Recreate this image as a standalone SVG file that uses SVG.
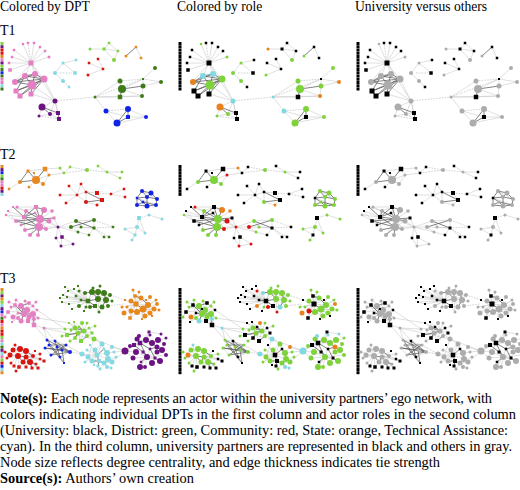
<svg xmlns="http://www.w3.org/2000/svg" width="520" height="490" viewBox="0 0 520 490" font-family="'Liberation Serif','Times New Roman',serif">
<style>
text{font-family:'Liberation Serif','Times New Roman',serif;font-size:14px;fill:#000}
.cap{font-size:14.4px}
.k1{fill:var(--k1)}.k2{fill:var(--k2)}.k3{fill:var(--k3)}.k4{fill:var(--k4)}
.k5{fill:var(--k5)}.k6{fill:var(--k6)}.k7{fill:var(--k7)}.k8{fill:var(--k8)}
.dpt{--k1:#e57fc3;--k2:#6b1383;--k3:#80d33c;--k4:#3e7c18;--k5:#1024e8;--k6:#84d9e3;--k7:#d8150f;--k8:#e8881c}
.e{fill:none;stroke:#c6c6c6;stroke-width:.55}
.ed{fill:none;stroke:#5a5a5a;stroke-width:.75}
.es{fill:none;stroke:#b4b4b4;stroke-width:.6;stroke-dasharray:1.6 1.2}
</style>
<defs>
<g id="L1">
<path class="k3" d="M0.5 42h3v3h-3z"/><path class="k2" d="M0.5 45.25h3v3h-3z"/><path class="k7" d="M0.5 48.5h3v3h-3z"/><path class="k7" d="M0.5 51.75h3v3h-3z"/><path class="k8" d="M0.5 55h3v3h-3z"/><path class="k1" d="M0.5 58.25h3v3h-3z"/><path class="k2" d="M0.5 61.5h3v3h-3z"/><path class="k3" d="M0.5 64.75h3v3h-3z"/><path class="k4" d="M0.5 68h3v3h-3z"/><path class="k5" d="M0.5 71.25h3v3h-3z"/><path class="k4" d="M0.5 74.5h3v3h-3z"/><path class="k1" d="M0.5 77.75h3v3h-3z"/><path class="k1" d="M0.5 81h3v3h-3z"/><path class="k6" d="M0.5 84.25h3v3h-3z"/><path class="k4" d="M0.5 87.5h3v3h-3z"/>
</g>
<g id="L2">
<path class="k8" d="M0.5 165h3v3h-3z"/><path class="k2" d="M0.5 168.1h3v3h-3z"/><path class="k5" d="M0.5 171.2h3v3h-3z"/><path class="k3" d="M0.5 174.3h3v3h-3z"/><path class="k4" d="M0.5 177.4h3v3h-3z"/><path class="k1" d="M0.5 180.5h3v3h-3z"/><path class="k1" d="M0.5 183.6h3v3h-3z"/><path class="k7" d="M0.5 186.7h3v3h-3z"/><path class="k2" d="M0.5 189.8h3v3h-3z"/><path class="k6" d="M0.5 192.9h3v3h-3z"/>
</g>
<g id="L3">
<path class="k8" d="M0.5 288h3v3h-3z"/><path class="k3" d="M0.5 291.2h3v3h-3z"/><path class="k2" d="M0.5 294.4h3v3h-3z"/><path class="k8" d="M0.5 297.6h3v3h-3z"/><path class="k3" d="M0.5 300.8h3v3h-3z"/><path class="k6" d="M0.5 304h3v3h-3z"/><path class="k2" d="M0.5 307.2h3v3h-3z"/><path class="k5" d="M0.5 310.4h3v3h-3z"/><path class="k1" d="M0.5 313.6h3v3h-3z"/><path class="k4" d="M0.5 316.8h3v3h-3z"/><path class="k7" d="M0.5 320h3v3h-3z"/><path class="k1" d="M0.5 323.2h3v3h-3z"/><path class="k8" d="M0.5 326.4h3v3h-3z"/><path class="k7" d="M0.5 329.6h3v3h-3z"/><path class="k7" d="M0.5 332.8h3v3h-3z"/><path class="k3" d="M0.5 336h3v3h-3z"/><path class="k1" d="M0.5 339.2h3v3h-3z"/><path class="k6" d="M0.5 342.4h3v3h-3z"/><path class="k4" d="M0.5 345.6h3v3h-3z"/><path class="k2" d="M0.5 348.8h3v3h-3z"/><path class="k6" d="M0.5 352h3v3h-3z"/><path class="k1" d="M0.5 355.2h3v3h-3z"/><path class="k3" d="M0.5 358.4h3v3h-3z"/><path class="k7" d="M0.5 361.6h3v3h-3z"/><path class="k5" d="M0.5 364.8h3v3h-3z"/><path class="k6" d="M0.5 368h3v3h-3z"/><path class="k8" d="M0.5 371.2h3v3h-3z"/>
</g>

<g id="t1E">
<path class="e" d="M31 63L14 50M31 63L23 44M31 63L34 43M31 63L40 47M31 63L45 51M31 63L49 57M31 63L12 57M31 63L9 63M31 63L10 70M31 63L25 76M31 63L35 74M31 63L44 79M31 63L15 82M31 63L55 101M44 79L55 101M32 85L55 101M31 94L55 101M55 101L42 107M55 101L50 114M55 101L58 113M55 101L59 119M50 114L58 113M42 107L39 116M50 114L59 119M39 116L50 114M63 63L76 60M63 63L55 73M63 63L75 73M55 73L63 81M63 81L69 87M89 63L103 69M98 59L103 69M88 75L103 69M90 49L104 49M104 49L109 43M104 49L118 51M104 49L114 60M109 43L118 51M118 51L114 60M136 47L141 58M95 97L120 81M95 97L120 97M120 81L122 89M122 89L142 96M143 79L155 68M143 79L161 82M143 86L161 82M120 97L142 96M143 79L143 86M143 86L142 96M122 89L143 79M95 97L106 111M106 111L117 123M128 109L146 117M117 123L146 117M128 117L146 117M106 111L128 117M95 97L142 96"/>
<path class="ed" d="M25 76L35 74M25 76L44 79M35 74L44 79M15 82L44 79M16 91L44 79M20 96L32 85M32 85L44 79M25 76L32 85M35 74L32 85M15 82L32 85M16 91L32 85M31 94L32 85M20 96L44 79M15 82L35 74M16 91L25 76M15 82L25 76M31 94L44 79M42 107L50 114M42 107L58 113M58 113L59 119M136 47L126 56M122 89L143 86M120 97L122 89M117 123L128 109M117 123L128 117M128 109L128 117"/>
<path class="es" d="M31 63L28 43M55 101L95 97M60 73L72 73M95 97L143 79M120 81L143 79M106 111L128 109M39 116L59 119"/>
</g>

<g id="t1U">
<path class="k1" d="M28.5 60.5h5v5h-5zM12.75 48.75h2.5v2.5h-2.5zM26.75 41.75h2.5v2.5h-2.5zM32.75 41.75h2.5v2.5h-2.5zM38.75 45.75h2.5v2.5h-2.5zM43.75 49.75h2.5v2.5h-2.5zM10.75 55.75h2.5v2.5h-2.5zM7.75 61.75h2.5v2.5h-2.5zM8.25 68.25h3.5v3.5h-3.5zM13.5 88.5h5v5h-5zM17.5 93.5h5v5h-5zM28.5 91.5h5v5h-5z"/>
<path class="k2" d="M56 111h4v4h-4zM57 117h4v4h-4z"/>
<path class="k6" d="M74.75 58.75h2.5v2.5h-2.5zM73.25 71.25h3.5v3.5h-3.5zM67.75 85.75h2.5v2.5h-2.5z"/>
<path class="k7" d="M87.75 61.75h2.5v2.5h-2.5zM96.75 57.75h2.5v2.5h-2.5zM101.75 67.75h2.5v2.5h-2.5z"/>
<path class="k3" d="M102.5 47.5h3v3h-3zM107.75 41.75h2.5v2.5h-2.5zM116.75 49.75h2.5v2.5h-2.5z"/>
<path class="k8" d="M134.75 45.75h2.5v2.5h-2.5zM139.75 56.75h2.5v2.5h-2.5z"/>
<path class="k4" d="M117.75 94.75h4.5v4.5h-4.5zM142 78h2v2h-2z"/>
<path class="k5" d="M126 115h4v4h-4z"/>
</g>
<g id="t1D">
<g class="k1"><circle cx="23" cy="44" r="1.3"/><circle cx="49" cy="57" r="1.5"/><circle cx="44" cy="79" r="3.5"/><circle cx="32" cy="85" r="4.5"/></g>
<g class="k2"><circle cx="50" cy="114" r="2"/><circle cx="39" cy="116" r="1.5"/></g>
<g class="k6"><circle cx="63" cy="63" r="1.5"/><circle cx="55" cy="73" r="2"/><circle cx="63" cy="81" r="2"/></g>
<g class="k7"><circle cx="88" cy="75" r="1.5"/></g>
<g class="k3"><circle cx="114" cy="60" r="2"/></g>
<g class="k8"><circle cx="126" cy="56" r="1.5"/></g>
<g class="k4"><circle cx="120" cy="81" r="2.5"/><circle cx="122" cy="89" r="4"/><circle cx="143" cy="86" r="2.5"/><circle cx="155" cy="68" r="2"/></g>
<g class="k5"><circle cx="117" cy="123" r="3.5"/><circle cx="128" cy="109" r="3"/><circle cx="146" cy="117" r="2"/></g>
</g>
<g id="t1S">
<g class="k1"><circle cx="15" cy="82" r="3"/></g>
<g class="k2"><circle cx="42" cy="107" r="3.5"/></g>
<g class="k3"><circle cx="90" cy="49" r="1.5"/></g>
<g class="k4"><circle cx="142" cy="96" r="2"/><circle cx="161" cy="82" r="2"/></g>
</g>
<g id="t1T">
<g class="k1"><circle cx="25" cy="76" r="3"/><circle cx="35" cy="74" r="3"/></g>
<g class="k2"><circle cx="55" cy="101" r="2.5"/></g>
<g class="k4"><circle cx="95" cy="97" r="1.5"/></g>
<g class="k5"><circle cx="106" cy="111" r="2.5"/></g>
</g>

<g id="t2E">
<path class="e" d="M28 171L45 169M45 169L36 180M36 180L43 184M9 189L20 182M45 169L49 175M36 180L49 175M34 173L36 180M28 171L34 173M49 175L64 173M45 169L60 168M43 184L49 175M60 168L64 173M64 173L70 167M98 166L107 172M107 172L122 172M107 172L120 178M77 195L81 184M77 195L69 186M77 195L60 195M77 195L66 203M77 195L86 202M77 195L86 192M86 192L97 193M111 194L124 189M86 192L86 202M97 193L102 200M97 205L102 200M86 202L97 205M81 184L86 192M142 191L157 199M137 198L156 205M8 211L24 217M6 215L24 217M17 207L26 211M52 211L40 219M21 225L24 217M16 221L24 217M25 230L24 217M46 229L40 219M30 235L40 219M36 207L26 211M49 221L39 227M13 207L26 211M8 211L16 221M17 207L36 207M6 215L16 221M54 218L58 227M49 221L58 227M46 229L58 227M40 219L58 227M39 227L58 227M58 227L62 237M58 227L56 238M62 237L73 244M61 246L73 244M56 238L61 246M62 237L61 246M58 227L76 221M58 227L71 227M76 221L94 220M71 227L94 228M94 220L94 228M78 232L89 235M94 228L104 237M71 227L78 232M58 227L78 232M76 221L81 227M81 227L94 228M149 215L162 219M139 218L137 227M137 227L125 229M137 227L145 233M137 227L135 235M135 235L132 240M125 229L135 235M139 218L145 233"/>
<path class="ed" d="M28 171L36 180M28 171L20 182M20 182L36 180M45 169L36 180M86 202L102 200M86 192L102 200M142 191L151 193M142 191L137 198M142 191L147 197M151 193L157 199M137 198L147 197M147 197L157 199M137 198L137 205M137 205L147 206M147 206L156 205M143 202L147 206M137 198L143 202M147 197L147 206M156 205L157 199M151 193L147 197M143 202L156 205M137 205L143 202M36 207L40 219M36 207L24 217M24 217L40 219M24 217L39 227M40 219L39 227M16 221L40 219M16 221L39 227M26 211L40 219M26 211L24 217M35 213L40 219M35 213L24 217M44 210L40 219M21 225L40 219M25 230L39 227M30 235L39 227M38 235L39 227M49 221L40 219M46 229L39 227M54 218L40 219M36 207L44 210M13 207L24 217M76 221L94 228M71 227L94 220"/>
<path class="es" d="M29 187L36 180M43 184L36 180M64 173L87 170M87 170L107 172M70 167L87 170M97 193L111 194M111 194L125 197M94 228L113 227M94 228L109 237M94 220L113 227M89 235L94 228M139 218L149 215"/>
</g>

<g id="t2U">
<path class="k8" d="M26.5 169.5h3v3h-3zM42.75 166.75h4.5v4.5h-4.5zM7.75 187.75h2.5v2.5h-2.5zM27.75 185.75h2.5v2.5h-2.5zM33 172h2v2h-2z"/>
<path class="k3" d="M62.75 171.75h2.5v2.5h-2.5zM68.75 165.75h2.5v2.5h-2.5zM96.75 164.75h2.5v2.5h-2.5zM120.75 170.75h2.5v2.5h-2.5zM118.75 176.75h2.5v2.5h-2.5z"/>
<path class="k7" d="M79.75 182.75h2.5v2.5h-2.5zM67.75 184.75h2.5v2.5h-2.5zM75.75 193.75h2.5v2.5h-2.5zM84.75 190.75h2.5v2.5h-2.5zM95 191h4v4h-4zM109.75 192.75h2.5v2.5h-2.5zM122.75 187.75h2.5v2.5h-2.5zM123.75 195.75h2.5v2.5h-2.5zM64.75 201.75h2.5v2.5h-2.5zM58.75 193.75h2.5v2.5h-2.5zM100 198h4v4h-4z"/>
<path class="k5" d="M135.75 196.75h2.5v2.5h-2.5z"/>
<path class="k1" d="M12 206h2v2h-2zM7 210h2v2h-2zM34 205h4v4h-4zM33.75 211.75h2.5v2.5h-2.5zM22 215h4v4h-4zM52.5 216.5h3v3h-3zM14.25 219.25h3.5v3.5h-3.5zM19.75 223.75h2.5v2.5h-2.5z"/>
<path class="k2" d="M60.25 235.25h3.5v3.5h-3.5zM54.75 236.75h2.5v2.5h-2.5z"/>
<path class="k4" d="M92.5 226.5h3v3h-3zM111.75 225.75h2.5v2.5h-2.5zM87.75 233.75h2.5v2.5h-2.5zM102.75 235.75h2.5v2.5h-2.5zM107.75 235.75h2.5v2.5h-2.5z"/>
<path class="k6" d="M137 216h4v4h-4zM133.5 233.5h3v3h-3z"/>
</g>
<g id="t2D">
<g class="k8"><circle cx="36" cy="180" r="4"/><circle cx="20" cy="182" r="2"/><circle cx="43" cy="184" r="2"/></g>
<g class="k3"><circle cx="87" cy="170" r="2"/><circle cx="107" cy="172" r="1.5"/></g>
<g class="k7"><circle cx="86" cy="202" r="2"/></g>
<g class="k5"><circle cx="142" cy="191" r="2"/><circle cx="151" cy="193" r="2.5"/><circle cx="147" cy="197" r="2"/><circle cx="157" cy="199" r="2"/><circle cx="137" cy="205" r="2"/><circle cx="147" cy="206" r="2.5"/><circle cx="156" cy="205" r="2"/><circle cx="143" cy="202" r="1.5"/></g>
<g class="k1"><circle cx="6" cy="215" r="1.3"/><circle cx="26" cy="211" r="2"/><circle cx="40" cy="219" r="4"/><circle cx="39" cy="227" r="4"/><circle cx="25" cy="230" r="2"/><circle cx="30" cy="235" r="2"/><circle cx="38" cy="235" r="2"/></g>
<g class="k4"><circle cx="76" cy="221" r="2"/><circle cx="94" cy="220" r="2"/><circle cx="81" cy="227" r="1.5"/><circle cx="78" cy="232" r="1.5"/></g>
<g class="k6"><circle cx="149" cy="215" r="1.5"/><circle cx="162" cy="219" r="1.5"/><circle cx="125" cy="229" r="1.5"/><circle cx="137" cy="227" r="2"/><circle cx="145" cy="233" r="1.5"/><circle cx="132" cy="240" r="1.5"/></g>
</g>
<g id="t2C">
<g class="k8"><circle cx="49" cy="175" r="1.5"/></g>
<g class="k1"><circle cx="17" cy="207" r="1.5"/><circle cx="49" cy="221" r="2.5"/><circle cx="46" cy="229" r="2"/></g>
<g class="k2"><circle cx="58" cy="227" r="1.5"/><circle cx="61" cy="246" r="1.5"/><circle cx="73" cy="244" r="1.5"/></g>
<g class="k4"><circle cx="71" cy="227" r="2"/></g>
</g>
<g id="t2S">
<g class="k3"><circle cx="60" cy="168" r="1.5"/></g>
<g class="k7"><circle cx="97" cy="205" r="1.5"/></g>
<g class="k1"><circle cx="44" cy="210" r="3"/><circle cx="52" cy="211" r="1.8"/></g>
</g>

<g id="t3E">
<path class="e" d="M27 310L15 305M27 310L29 303M27 310L8 312M27 310L28 321M27 310L34 325M27 310L18 313M27 310L12 322M27 310L37 310M27 310L21 306M27 310L33 314M27 310L18 318M27 310L11 307M27 310L38 318M27 310L16 300M27 310L25 301M27 310L33 306M27 310L21 321M27 310L34 319M27 310L13 317M15 305L8 312M15 305L21 306M15 305L18 313M15 305L16 300M15 305L11 307M29 303L33 306M29 303L25 301M29 303L37 310M28 321L34 325M28 321L21 321M28 321L34 319M24 314L28 321M18 313L13 317M12 322L18 318M8 312L13 317M33 314L38 318M34 325L44 328M15 305L9 302M27 310L36 302M8 312L5 317
M44 328L55 341M44 328L47 340M44 328L65 329M44 328L94 339M37 310L65 329M34 325L47 340M38 318L69 323M94 339L102 344M94 339L88 357M82 354L88 357M114 352L125 351M112 347L125 351M112 362L125 351M94 339L125 351M66 345L82 354
M88 301L63 295M88 301L68 291M88 301L74 289M88 301L62 302M88 301L69 304M88 301L67 297M88 301L76 296M88 301L72 309M88 301L84 311M88 301L79 291M88 301L85 293M88 301L79 306M88 301L90 307M88 301L92 292M88 301L98 292M88 301L93 288M98 299L104 293M98 299L106 300M98 299L108 306M98 299L110 295M98 299L102 307M98 299L99 312M98 299L95 306M98 292L104 293M104 293L110 295M106 300L110 295M106 300L108 306M92 292L98 292M63 295L68 291M68 291L74 289M62 302L69 304M67 297L63 295M76 296L81 300M95 306L102 307M95 306L99 312M86 307L90 307M88 301L65 287M88 301L60 298M88 301L78 286M98 299L112 301M98 292L100 286
M136 304L135 296M136 304L130 318M136 304L146 300M136 304L125 300M136 304L131 301M136 304L141 298M136 304L148 305M136 304L137 312M136 304L131 311M136 304L124 313M136 304L127 307M136 304L139 292M143 309L152 316M143 309L142 319M143 309L154 309M143 309L150 313M143 309L145 316M143 309L157 304M143 309L156 300M148 305L156 300M148 305L154 309M141 298L146 300M130 318L137 312M137 312L145 316M150 313L152 316M131 311L130 318M143 309L159 310M136 304L133 290M143 309L150 297M136 304L122 307
M84 331L69 323M84 331L74 322M84 331L79 327M84 331L67 335M84 331L75 338M84 331L81 341M84 331L89 328M84 331L92 333M84 331L87 336M84 331L82 323M84 331L87 323M84 331L94 339M75 328L65 329M75 328L71 330M75 328L69 323M75 328L74 322M75 328L67 335M75 328L78 333M78 333L75 338M78 333L81 341M89 328L92 333M87 336L92 333M84 331L62 336M84 331L95 326M75 338L70 341
M55 341L66 345M47 340L55 341M45 348L51 355M60 357L64 363M57 347L62 350M60 357L70 352M45 348L49 345
M18 356L13 350M18 356L20 349M18 356L26 351M18 356L10 355M18 356L7 358M18 356L11 363M18 356L14 366M18 356L19 367M18 356L15 345M26 357L26 351M26 357L33 356M26 357L30 362M26 357L26 367M26 357L32 368M26 357L35 351M26 357L38 368M26 357L40 359M26 357L44 361M26 357L36 364M30 362L38 368M33 356L40 359M40 359L44 361M20 349L26 351M13 350L20 349M23 362L19 367M18 356L5 352M26 357L40 354M19 367L16 371
M97 355L82 354M97 355L88 357M97 355L92 361M97 355L102 344M97 355L90 345M97 355L107 353M97 355L108 359M97 355L87 350M97 355L94 365M104 363L107 367M104 363L111 368M104 363L112 362M107 353L114 352M107 353L112 347M102 344L104 349M95 350L102 344M108 359L112 362M88 357L92 361M104 363L116 357M97 355L85 362M104 363L100 369
M140 343L134 345M140 343L137 339M140 343L139 336M140 343L146 340M140 343L149 332M140 343L152 343M140 343L136 352M140 343L125 351M140 343L150 335M147 357L150 349M147 357L155 358M147 357L152 363M147 357L140 367M147 357L160 361M147 357L133 358M147 357L136 352M147 357L157 352M152 343L158 340M152 343L150 349M158 340L164 344M162 350L157 352M162 350L164 344M157 347L162 350M149 332L161 334M146 340L149 332M125 351L134 345M125 351L136 352M125 351L133 358M147 357L166 355M147 357L145 367M140 343L130 346M152 343L166 338"/>
<path class="ed" d="M21 306L24 314M24 314L33 314M18 313L24 314M21 306L29 303M24 314L21 321M33 314L34 325M15 305L24 314M28 321L33 314M88 301L98 299M88 301L95 306M92 292L98 299M98 292L98 299M85 293L92 292M81 300L88 301M90 307L95 306M102 307L106 300M104 293L106 300M136 304L143 309M143 309L148 305M141 298L148 305M137 312L143 309M131 301L136 304M131 311L137 312M135 296L141 298M75 328L84 331M78 333L84 331M79 327L84 331M67 335L78 333M75 338L78 333M81 341L87 336M47 340L70 352M45 348L70 352M55 341L60 357M49 345L66 345M51 355L66 345M57 347L70 352M62 350L64 363M45 348L62 350M55 341L70 352M47 340L60 357M51 355L70 352M49 345L64 363M18 356L26 357M23 362L26 357M30 362L32 368M26 351L33 356M18 356L23 362M30 362L36 364M97 355L99 361M99 361L104 363M97 355L104 349M104 349L107 353M107 353L108 359M92 361L99 361M95 350L97 355M99 361L98 366M108 359L104 363M140 343L147 357M140 343L150 349M143 352L147 357M150 349L157 347M146 340L152 343M150 349L155 358M134 345L143 352M152 343L157 347M155 358L160 361M141 362L147 357"/>
<path class="es" d="M70 352L82 354M108 306L124 304M110 295L125 300"/>
</g>

<g id="t3U">
<path class="k1" d="M13.25 303.25h3.5v3.5h-3.5zM27.25 301.25h3.5v3.5h-3.5zM6.25 310.25h3.5v3.5h-3.5zM26 319h4v4h-4zM31.75 322.75h4.5v4.5h-4.5zM16.75 311.75h2.5v2.5h-2.5zM11 321h2v2h-2zM35.75 308.75h2.5v2.5h-2.5zM23 308h2v2h-2z"/>
<path class="k4" d="M62 294h2v2h-2zM67 290h2v2h-2zM73 288h2v2h-2zM61 301h2v2h-2zM68 303h2v2h-2zM66 296h2v2h-2zM74.75 294.75h2.5v2.5h-2.5zM71 308h2v2h-2zM83 310h2v2h-2zM85.75 298.75h4.5v4.5h-4.5zM93 304h4v4h-4zM79.75 298.75h2.5v2.5h-2.5zM64 286h2v2h-2zM59 297h2v2h-2zM77 285h2v2h-2z"/>
<path class="k8" d="M133.25 294.25h3.5v3.5h-3.5zM133.5 301.5h5v5h-5zM128.25 316.25h3.5v3.5h-3.5zM145 299h2v2h-2zM151 315h2v2h-2zM124 299h2v2h-2zM141 318h2v2h-2z"/>
<path class="k3" d="M68 322h2v2h-2zM73 321h2v2h-2zM77.75 325.75h2.5v2.5h-2.5zM65 333h4v4h-4zM73.25 336.25h3.5v3.5h-3.5zM79 339h4v4h-4zM87.75 326.75h2.5v2.5h-2.5zM90.5 331.5h3v3h-3z"/>
<path class="k5" d="M53.75 339.75h2.5v2.5h-2.5zM58.75 355.75h2.5v2.5h-2.5zM63 362h2v2h-2z"/>
<path class="k7" d="M12.5 364.5h3v3h-3zM17.25 365.25h3.5v3.5h-3.5zM24.5 365.5h3v3h-3zM30.5 366.5h3v3h-3zM36.5 366.5h3v3h-3zM42.5 359.5h3v3h-3zM38.75 357.75h2.5v2.5h-2.5zM34 350h2v2h-2z"/>
<path class="k6" d="M94.75 352.75h4.5v4.5h-4.5zM97 359h4v4h-4zM96.5 364.5h3v3h-3zM89 344h2v2h-2zM102.75 347.75h2.5v2.5h-2.5zM93 364h2v2h-2z"/>
<path class="k2" d="M132 343h4v4h-4zM137.75 340.75h4.5v4.5h-4.5zM147.5 330.5h3v3h-3zM141.5 350.5h3v3h-3zM148.75 347.75h2.5v2.5h-2.5zM153.5 356.5h3v3h-3zM139.75 360.75h2.5v2.5h-2.5z"/>
</g>
<g id="t3D">
<g class="k1"><circle cx="21" cy="306" r="3"/><circle cx="27" cy="310" r="3"/><circle cx="33" cy="314" r="3"/><circle cx="24" cy="314" r="3"/><circle cx="29" cy="317" r="2.5"/><circle cx="18" cy="318" r="2"/><circle cx="11" cy="307" r="1.5"/><circle cx="38" cy="318" r="1.5"/><circle cx="16" cy="300" r="1.5"/><circle cx="25" cy="301" r="1.5"/><circle cx="33" cy="306" r="1.5"/><circle cx="9" cy="302" r="1.5"/><circle cx="36" cy="302" r="1.5"/><circle cx="5" cy="317" r="1.5"/></g>
<g class="k4"><circle cx="92" cy="292" r="3"/><circle cx="98" cy="292" r="3"/><circle cx="104" cy="293" r="3"/><circle cx="98" cy="299" r="3"/><circle cx="106" cy="300" r="3"/><circle cx="108" cy="306" r="2"/><circle cx="93" cy="288" r="1.5"/><circle cx="110" cy="295" r="2"/><circle cx="86" cy="307" r="1.5"/><circle cx="112" cy="301" r="1.5"/><circle cx="100" cy="286" r="1.5"/></g>
<g class="k8"><circle cx="131" cy="301" r="2.5"/><circle cx="141" cy="298" r="2.5"/><circle cx="148" cy="305" r="3"/><circle cx="154" cy="309" r="2.5"/><circle cx="143" cy="309" r="3.5"/><circle cx="150" cy="313" r="2.5"/><circle cx="137" cy="312" r="3"/><circle cx="145" cy="316" r="2.5"/><circle cx="139" cy="292" r="1.5"/><circle cx="156" cy="300" r="1.5"/><circle cx="127" cy="307" r="1.5"/><circle cx="159" cy="310" r="1.5"/><circle cx="133" cy="290" r="1.5"/><circle cx="150" cy="297" r="2"/><circle cx="122" cy="307" r="1.5"/></g>
<g class="k3"><circle cx="75" cy="328" r="2.5"/><circle cx="84" cy="331" r="2.5"/><circle cx="78" cy="333" r="2.5"/><circle cx="87" cy="336" r="2"/><circle cx="65" cy="329" r="1.5"/><circle cx="71" cy="330" r="1.5"/><circle cx="87" cy="323" r="1.5"/><circle cx="62" cy="336" r="1.5"/><circle cx="95" cy="326" r="1.5"/><circle cx="70" cy="341" r="1.5"/></g>
<g class="k5"><circle cx="47" cy="340" r="1.5"/><circle cx="45" cy="348" r="1.5"/><circle cx="51" cy="355" r="1.5"/><circle cx="70" cy="352" r="2"/><circle cx="57" cy="347" r="1.5"/><circle cx="62" cy="350" r="1.5"/><circle cx="49" cy="345" r="1.5"/><circle cx="66" cy="345" r="1.5"/></g>
<g class="k7"><circle cx="13" cy="350" r="2.5"/><circle cx="20" cy="349" r="3"/><circle cx="26" cy="351" r="3"/><circle cx="18" cy="356" r="3"/><circle cx="26" cy="357" r="2.5"/><circle cx="30" cy="362" r="3"/><circle cx="23" cy="362" r="2.5"/><circle cx="33" cy="356" r="2"/><circle cx="7" cy="358" r="1.5"/><circle cx="11" cy="363" r="1.5"/><circle cx="36" cy="364" r="1.5"/><circle cx="5" cy="352" r="1.5"/><circle cx="40" cy="354" r="1.5"/><circle cx="16" cy="371" r="1.5"/></g>
<g class="k6"><circle cx="88" cy="357" r="2.5"/><circle cx="92" cy="361" r="2.5"/><circle cx="95" cy="350" r="2.5"/><circle cx="102" cy="344" r="2.5"/><circle cx="107" cy="353" r="3"/><circle cx="108" cy="359" r="3"/><circle cx="112" cy="362" r="2.5"/><circle cx="104" cy="363" r="2.5"/><circle cx="87" cy="350" r="1.5"/><circle cx="114" cy="352" r="1.5"/><circle cx="116" cy="357" r="1.5"/><circle cx="85" cy="362" r="1.5"/><circle cx="100" cy="369" r="1.5"/></g>
<g class="k2"><circle cx="137" cy="339" r="2.5"/><circle cx="146" cy="340" r="3"/><circle cx="152" cy="343" r="3"/><circle cx="158" cy="340" r="3"/><circle cx="162" cy="350" r="3"/><circle cx="157" cy="352" r="2.5"/><circle cx="136" cy="352" r="3"/><circle cx="147" cy="357" r="3"/><circle cx="152" cy="363" r="3"/><circle cx="140" cy="367" r="3"/><circle cx="160" cy="361" r="3"/><circle cx="133" cy="358" r="2.5"/><circle cx="164" cy="344" r="2"/><circle cx="166" cy="355" r="2"/><circle cx="145" cy="367" r="2"/><circle cx="130" cy="346" r="2"/><circle cx="166" cy="338" r="1.5"/></g>
</g>
<g id="t3C">
<g class="k4"><circle cx="79" cy="291" r="1.5"/><circle cx="90" cy="307" r="2"/><circle cx="99" cy="312" r="1.5"/></g>
<g class="k8"><circle cx="131" cy="311" r="2.5"/></g>
</g>
<g id="t3S">
<g class="k1"><circle cx="13" cy="317" r="2.5"/></g>
<g class="k4"><circle cx="79" cy="306" r="2"/></g>
<g class="k8"><circle cx="124" cy="313" r="2.5"/><circle cx="157" cy="304" r="2"/></g>
<g class="k3"><circle cx="82" cy="323" r="2"/></g>
<g class="k7"><circle cx="10" cy="355" r="2.5"/></g>
<g class="k6"><circle cx="112" cy="347" r="2"/></g>
<g class="k2"><circle cx="157" cy="347" r="2.5"/></g>
</g>
<g id="t3T">
<g class="k1"><circle cx="21" cy="321" r="2.5"/><circle cx="34" cy="319" r="2"/><circle cx="44" cy="328" r="1.5"/></g>
<g class="k4"><circle cx="85" cy="293" r="2"/><circle cx="102" cy="307" r="2.5"/></g>
<g class="k3"><circle cx="94" cy="339" r="2.5"/></g>
<g class="k7"><circle cx="15" cy="345" r="1.5"/></g>
<g class="k6"><circle cx="82" cy="354" r="2.5"/><circle cx="107" cy="367" r="2"/><circle cx="111" cy="368" r="1.5"/></g>
<g class="k2"><circle cx="125" cy="351" r="3.5"/><circle cx="139" cy="336" r="2"/><circle cx="150" cy="335" r="1.5"/><circle cx="161" cy="334" r="1.5"/></g>
</g>
</defs>

<rect width="520" height="490" fill="#fff"/>

<g id="titles" style="font-family:'Liberation Serif',serif">
<text x="0" y="11" style="font-family:'Liberation Serif',serif;font-size:13.6px">Colored by DPT</text>
<text x="177" y="11" style="font-family:'Liberation Serif',serif;font-size:13.6px">Colored by role</text>
<text x="355" y="11" style="font-family:'Liberation Serif',serif;font-size:13.6px">University versus others</text>
<text x="0" y="35" style="font-family:'Liberation Serif',serif">T1</text>
<text x="0" y="159" style="font-family:'Liberation Serif',serif">T2</text>
<text x="0" y="283" style="font-family:'Liberation Serif',serif">T3</text>
</g>

<g id="connectors">
<use href="#t1E"/><use href="#t1E" x="178"/><use href="#t1E" x="356"/>
<use href="#t2E"/><use href="#t2E" x="178"/><use href="#t2E" x="356"/>
<use href="#t3E"/><use href="#t3E" x="178"/><use href="#t3E" x="356"/>
</g>

<g id="col-dpt" class="dpt">
<use href="#L1"/><use href="#L2"/><use href="#L3"/>
<use href="#t1U"/><use href="#t1D"/><use href="#t1S"/><use href="#t1T"/>
<use href="#t2U"/><use href="#t2D"/><use href="#t2C"/><use href="#t2S"/>
<use href="#t3U"/><use href="#t3D"/><use href="#t3C"/><use href="#t3S"/><use href="#t3T"/>
</g>

<g id="col-role" transform="translate(178 0)">
<use href="#L1" fill="#000"/><use href="#L2" fill="#000"/><use href="#L3" fill="#000"/>
<use href="#t1D" fill="#7ed23a"/><use href="#t1S" fill="#e8801c"/><use href="#t1T" fill="#80d8e2"/><use href="#t1U" fill="#000"/>
<use href="#t2D" fill="#7ed23a"/><use href="#t2C" fill="#dd1111"/><use href="#t2S" fill="#e8801c"/><use href="#t2U" fill="#000"/>
<use href="#t3D" fill="#7ed23a"/><use href="#t3C" fill="#dd1111"/><use href="#t3S" fill="#e8801c"/><use href="#t3T" fill="#80d8e2"/><use href="#t3U" fill="#000"/>
</g>

<g id="col-univ" transform="translate(356 0)">
<use href="#L1" fill="#000"/><use href="#L2" fill="#000"/><use href="#L3" fill="#000"/>
<use href="#t1D" fill="#acacac"/><use href="#t1S" fill="#acacac"/><use href="#t1T" fill="#acacac"/><use href="#t1U" fill="#000"/>
<use href="#t2D" fill="#acacac"/><use href="#t2C" fill="#acacac"/><use href="#t2S" fill="#acacac"/><use href="#t2U" fill="#000"/>
<use href="#t3D" fill="#acacac"/><use href="#t3C" fill="#acacac"/><use href="#t3S" fill="#acacac"/><use href="#t3T" fill="#acacac"/><use href="#t3U" fill="#000"/>
</g>

<g id="caption" style="font-family:'Liberation Serif',serif">
<text class="cap" x="0" y="403" textLength="492" lengthAdjust="spacing" style="font-family:'Liberation Serif',serif"><tspan font-weight="bold">Note(s):</tspan> Each node represents an actor within the university partners’ ego network, with</text>
<text class="cap" x="0" y="419" textLength="516" lengthAdjust="spacing" style="font-family:'Liberation Serif',serif">colors indicating individual DPTs in the first column and actor roles in the second column</text>
<text class="cap" x="0" y="435" textLength="508" lengthAdjust="spacing" style="font-family:'Liberation Serif',serif">(University: black, District: green, Community: red, State: orange, Technical Assistance:</text>
<text class="cap" x="0" y="451" textLength="512" lengthAdjust="spacing" style="font-family:'Liberation Serif',serif">cyan). In the third column, university partners are represented in black and others in gray.</text>
<text class="cap" x="0" y="467" textLength="440" lengthAdjust="spacing" style="font-family:'Liberation Serif',serif">Node size reflects degree centrality, and edge thickness indicates tie strength</text>
<text class="cap" x="0" y="483" textLength="194" lengthAdjust="spacing" style="font-family:'Liberation Serif',serif"><tspan font-weight="bold">Source(s):</tspan> Authors’ own creation</text>
</g>
</svg>
